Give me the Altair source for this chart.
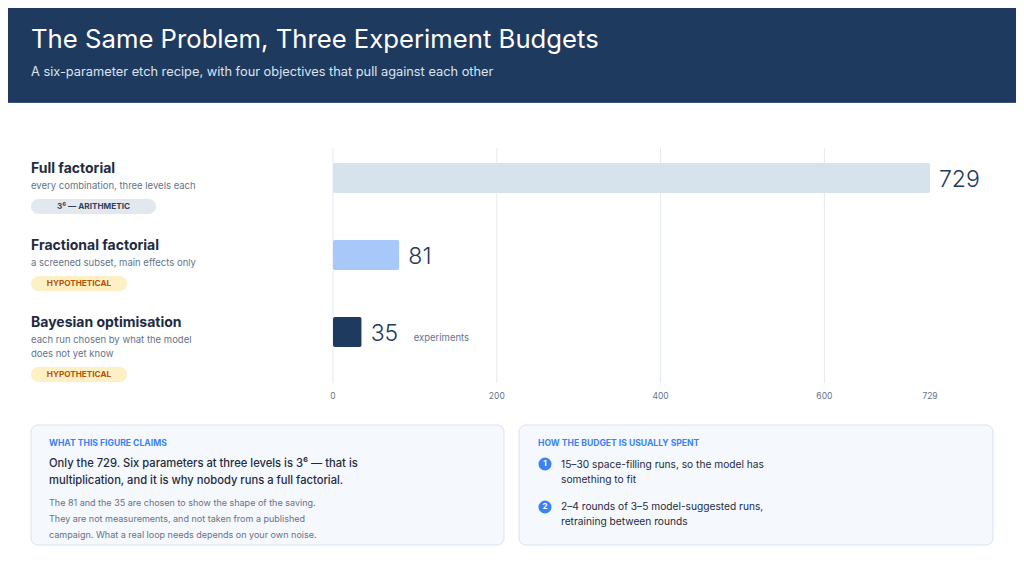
import altair as alt
import pandas as pd

# ---- data ----
categories = ["Full factorial", "Fractional factorial", "Bayesian optimisation"]
experiments = [729, 81, 35]
bar_colors = ["#d6e2ec", "#a9c8fa", "#1f3a5f"]
grid_ticks = [0, 200, 400, 600]
tick_labels = [0, 200, 400, 600, 729]

FONT = "Inter"
NAVY = "#1f3a5f"
DARK = "#1e2b40"
GREY = "#64748b"
BLUE = "#3b82f6"

bars_df = pd.DataFrame({"cat": categories, "n": experiments})
one = pd.DataFrame({"a": [0]})

xscale = alt.Scale(domain=[0, 729], range=[325, 922], nice=False, zero=True)
yscale = alt.Scale(domain=categories, range=[131.5, 362.5], paddingInner=0, paddingOuter=0)

layers = []


def rect(x, x2, y, y2, fill, stroke=None, radius=0):
    kw = dict(fill=fill, cornerRadius=radius)
    if stroke:
        kw.update(stroke=stroke, strokeWidth=1)
    return alt.Chart(one).mark_rect(**kw).encode(
        x=alt.value(x), x2=alt.value(x2), y=alt.value(y), y2=alt.value(y2))


def text(s, x, y, size, color, weight=400, align="left", baseline="middle", lh=None):
    kw = dict(text=s, font=FONT, fontSize=size, color=color, fontWeight=weight,
              align=align, baseline=baseline)
    if lh:
        kw["lineHeight"] = lh
    return alt.Chart(one).mark_text(**kw).encode(x=alt.value(x), y=alt.value(y))


# header
layers.append(rect(0, 1008, 0, 95, NAVY))
layers.append(rect(0, 1008, 94, 95, "#3a5579"))
layers.append(text("The Same Problem, Three Experiment Budgets", 23, 32, 25.7, "#ffffff", 400))
layers.append(text("A six-parameter etch recipe, with four objectives that pull against each other",
                   23, 64, 12.8, "#dbe4ef", 400))

# gridlines
grid = alt.Chart(pd.DataFrame({"t": grid_ticks})).mark_rule(color="#e3e9f0", strokeWidth=1).encode(
    x=alt.X("t:Q", scale=xscale, axis=None), y=alt.value(140), y2=alt.value(375))
layers.append(grid)

# tick labels
ticks = alt.Chart(pd.DataFrame({"t": tick_labels})).mark_text(
    font=FONT, fontSize=8.5, color=GREY, baseline="middle", align="center").encode(
    x=alt.X("t:Q", scale=xscale, axis=None), y=alt.value(388), text="t:Q")
layers.append(ticks)

# bars
bars = alt.Chart(bars_df).mark_bar(size=30, cornerRadius=2).encode(
    x=alt.X("n:Q", scale=xscale, axis=None),
    x2=alt.value(325),
    y=alt.Y("cat:N", scale=yscale, axis=None),
    color=alt.Color("cat:N", scale=alt.Scale(domain=categories, range=bar_colors), legend=None),
)
layers.append(bars)

values = alt.Chart(bars_df).mark_text(
    font=FONT, fontSize=23, fontWeight=300, color=NAVY, align="left", baseline="middle", dx=9, dy=2).encode(
    x=alt.X("n:Q", scale=xscale, axis=None),
    y=alt.Y("cat:N", scale=yscale, axis=None),
    text="n:Q")
layers.append(values)

unit = alt.Chart(bars_df[bars_df["cat"] == categories[-1]]).mark_text(
    text="experiments", font=FONT, fontSize=9.5, color=GREY, align="left", baseline="middle", dx=52, dy=6).encode(
    x=alt.X("n:Q", scale=xscale, axis=None),
    y=alt.Y("cat:N", scale=yscale, axis=None))
layers.append(unit)

# left labels
layers.append(text("Full factorial", 23, 161, 14, DARK, 700))
layers.append(text("every combination, three levels each", 23, 178, 9.5, GREY))
layers.append(rect(23, 148, 191, 206, "#e2e8f0", radius=8))
layers.append(text("3\u2076 \u2014 ARITHMETIC", 85.5, 198.5, 8.2, "#334155", 700, align="center"))

layers.append(text("Fractional factorial", 23, 238, 14, DARK, 700))
layers.append(text("a screened subset, main effects only", 23, 255, 9.5, GREY))
layers.append(rect(23, 119, 268, 283, "#fdf0c4", radius=8))
layers.append(text("HYPOTHETICAL", 71, 275.5, 8.2, "#b45309", 700, align="center"))

layers.append(text("Bayesian optimisation", 23, 315, 14, DARK, 700))
layers.append(text(["each run chosen by what the model", "does not yet know"], 23, 332, 9.5, GREY, lh=13.5,
                   baseline="middle"))
layers.append(rect(23, 119, 359, 374, "#fdf0c4", radius=8))
layers.append(text("HYPOTHETICAL", 71, 366.5, 8.2, "#b45309", 700, align="center"))

# cards
layers.append(rect(23, 496, 417, 537, "#f5f8fc", "#d9e2ec", radius=7))
layers.append(rect(511, 985, 417, 537, "#f5f8fc", "#d9e2ec", radius=7))

layers.append(text("WHAT THIS FIGURE CLAIMS", 41, 435, 8.6, BLUE, 700))
layers.append(text(["Only the 729. Six parameters at three levels is 3\u2076 \u2014 that is",
                    "multiplication, and it is why nobody runs a full factorial."],
                   41, 456, 11.2, DARK, 500, lh=17))
layers.append(text(["The 81 and the 35 are chosen to show the shape of the saving.",
                    "They are not measurements, and not taken from a published",
                    "campaign. What a real loop needs depends on your own noise."],
                   41, 495, 9, GREY, lh=16))

layers.append(text("HOW THE BUDGET IS USUALLY SPENT", 530, 435, 8.6, BLUE, 700))
circles = alt.Chart(pd.DataFrame({"k": ["1", "2"], "yy": [456, 499]})).mark_circle(
    size=170, color=BLUE, opacity=1).encode(x=alt.value(537), y=alt.Y("yy:Q", scale=None))
layers.append(circles)
nums = alt.Chart(pd.DataFrame({"k": ["1", "2"], "yy": [456, 499]})).mark_text(
    font=FONT, fontSize=8, fontWeight=700, color="#ffffff", align="center", baseline="middle").encode(
    x=alt.value(537), y=alt.Y("yy:Q", scale=None), text="k:N")
layers.append(nums)
layers.append(text(["15\u201330 space-filling runs, so the model has", "something to fit"],
                   553, 457, 10.2, DARK, 400, lh=15))
layers.append(text(["2\u20134 rounds of 3\u20135 model-suggested runs,", "retraining between rounds"],
                   553, 499, 10.2, DARK, 400, lh=15))

chart = alt.layer(*layers).properties(
    width=1008, height=560,
    autosize=alt.AutoSizeParams(type="none"),
    padding=0,
    background="#ffffff",
).configure_view(strokeWidth=0)

chart.save("out.html", embed_options={"renderer": "svg", "actions": False})
